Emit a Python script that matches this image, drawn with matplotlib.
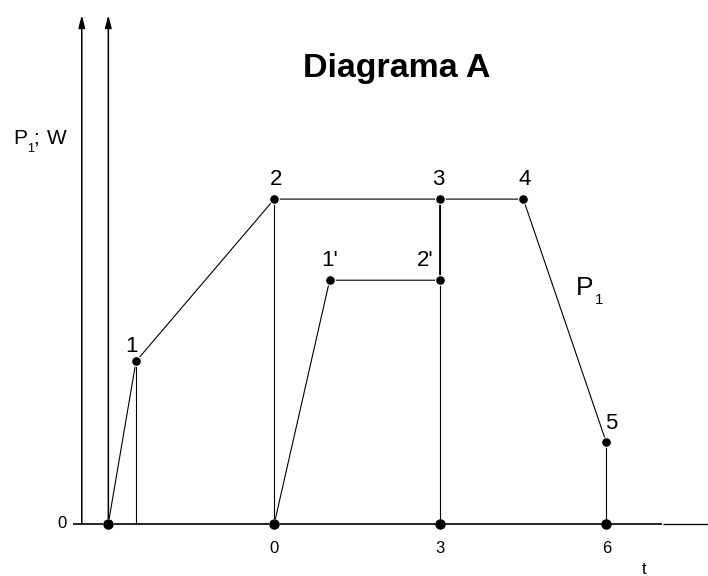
import matplotlib.pyplot as plt

plt.rcParams["font.family"] = ["Liberation Sans", "DejaVu Sans"]

# main polyline P1: points 0(origin), 1, 2, 3, 4, 5
t_main = [-3, -2.5, 0, 3, 4.5, 6]
p_main = [0, 2, 4, 4, 4, 1]
main_labels = ["", "1", "2", "3", "4", "5"]

# second polyline: 0 -> 1' -> 2'
t_prime = [0, 1, 3]
p_prime = [0, 3, 3]
prime_labels = ["", "1'", "2'"]

# vertical drop lines (t, top value)
drop_t = [-2.5, 0, 3, 6]
drop_p = [2, 4, 4, 1]

# dots on the time axis and tick labels
axis_dots = [-3, 0, 3, 6]
tick_pos = [0, 3, 6]
tick_labels = ["0", "3", "6"]

# label offsets in pixels (dx, dy up)
main_offsets = [(0, 0), (-5, 9), (2, 14), (-2, 14), (1, 14), (5, 13)]
prime_offsets = [(0, 0), (0, 14), (-15, 14)]

PX = 0.72  # points per pixel at dpi 100

fig = plt.figure(figsize=(7.08, 5.76), dpi=100)
ax = fig.add_axes([0, 0, 1, 1])
ax.set_xlim(-4.958, 7.838)
ax.set_ylim(-0.647, 6.455)
ax.axis("off")

top = 6.27
# axes
ax.plot([-3.64, 7.0], [0, 0], color="black", lw=1.2, solid_capstyle="butt")
ax.plot([7.03, 7.84], [0, 0], color="black", lw=0.9, solid_capstyle="butt")
for xa in [-3.48, -3]:
    ax.annotate("", xy=(xa, top), xytext=(xa, 0),
                arrowprops=dict(arrowstyle="-|>,head_length=0.5,head_width=0.13",
                                mutation_scale=15, lw=1.1, color="black",
                                shrinkA=0, shrinkB=0))

# tick marks below axis
for xt in axis_dots:
    ax.annotate("", xy=(xt, 0), xytext=(0, -4 * PX), textcoords="offset points",
                arrowprops=dict(arrowstyle="-", lw=1.1, color="black",
                                shrinkA=0, shrinkB=0))

# drop lines
for xt, yt in zip(drop_t, drop_p):
    ax.plot([xt, xt], [0, yt], color="black", lw=0.8)
ax.plot([3, 3], [3, 4], color="black", lw=1.3)

# polylines
ax.plot(t_main, p_main, color="black", lw=0.8)
ax.plot(t_prime, p_prime, color="black", lw=0.8)

# dots
ax.plot(t_main, p_main, "o", color="black", ms=7, mec="white", mew=0.8, zorder=5)
ax.plot(t_prime, p_prime, "o", color="black", ms=7, mec="white", mew=0.8, zorder=5)
ax.plot(axis_dots, [0] * len(axis_dots), "o", color="black", ms=6.5, zorder=5)

# point labels
for xs, ys, labs, offs in [(t_main, p_main, main_labels, main_offsets),
                           (t_prime, p_prime, prime_labels, prime_offsets)]:
    for xv, yv, lab, (dx, dy) in zip(xs, ys, labs, offs):
        if lab:
            ax.annotate(lab, (xv, yv), xytext=(dx * PX, dy * PX),
                        textcoords="offset points", ha="center", va="baseline",
                        fontsize=16)

# tick labels
for xt, lab in zip(tick_pos, tick_labels):
    ax.annotate(lab, (xt, 0), xytext=(0, -25 * PX), textcoords="offset points",
                ha="center", va="center", fontsize=12)
ax.annotate("0", (-3.48, 0), xytext=(-20 * PX, 0), textcoords="offset points",
            ha="center", va="center", fontsize=12)

# y label "P1; W"
fig.text(13 / 708, 1 - 144 / 576, "P", fontsize=15, va="baseline", ha="left")
fig.text(27 / 708, 1 - 152 / 576, "1", fontsize=9, va="baseline", ha="left")
fig.text(33 / 708, 1 - 144 / 576, ";", fontsize=15, va="baseline", ha="left")
fig.text(47 / 708, 1 - 144 / 576, "W", fontsize=15, va="baseline", ha="left")

# P1 curve label
fig.text(576 / 708, 1 - 295 / 576, "P", fontsize=19, va="baseline", ha="left")
fig.text(595 / 708, 1 - 304 / 576, "1", fontsize=11, va="baseline", ha="left")

# t axis label
fig.text(644 / 708, 1 - 574 / 576, "t", fontsize=12, va="baseline", ha="center")

# title
fig.text(397 / 708, 1 - 77 / 576, "Diagrama A", fontsize=24.5, fontweight="bold",
         ha="center", va="baseline")

fig.savefig("out.png", dpi=100)
